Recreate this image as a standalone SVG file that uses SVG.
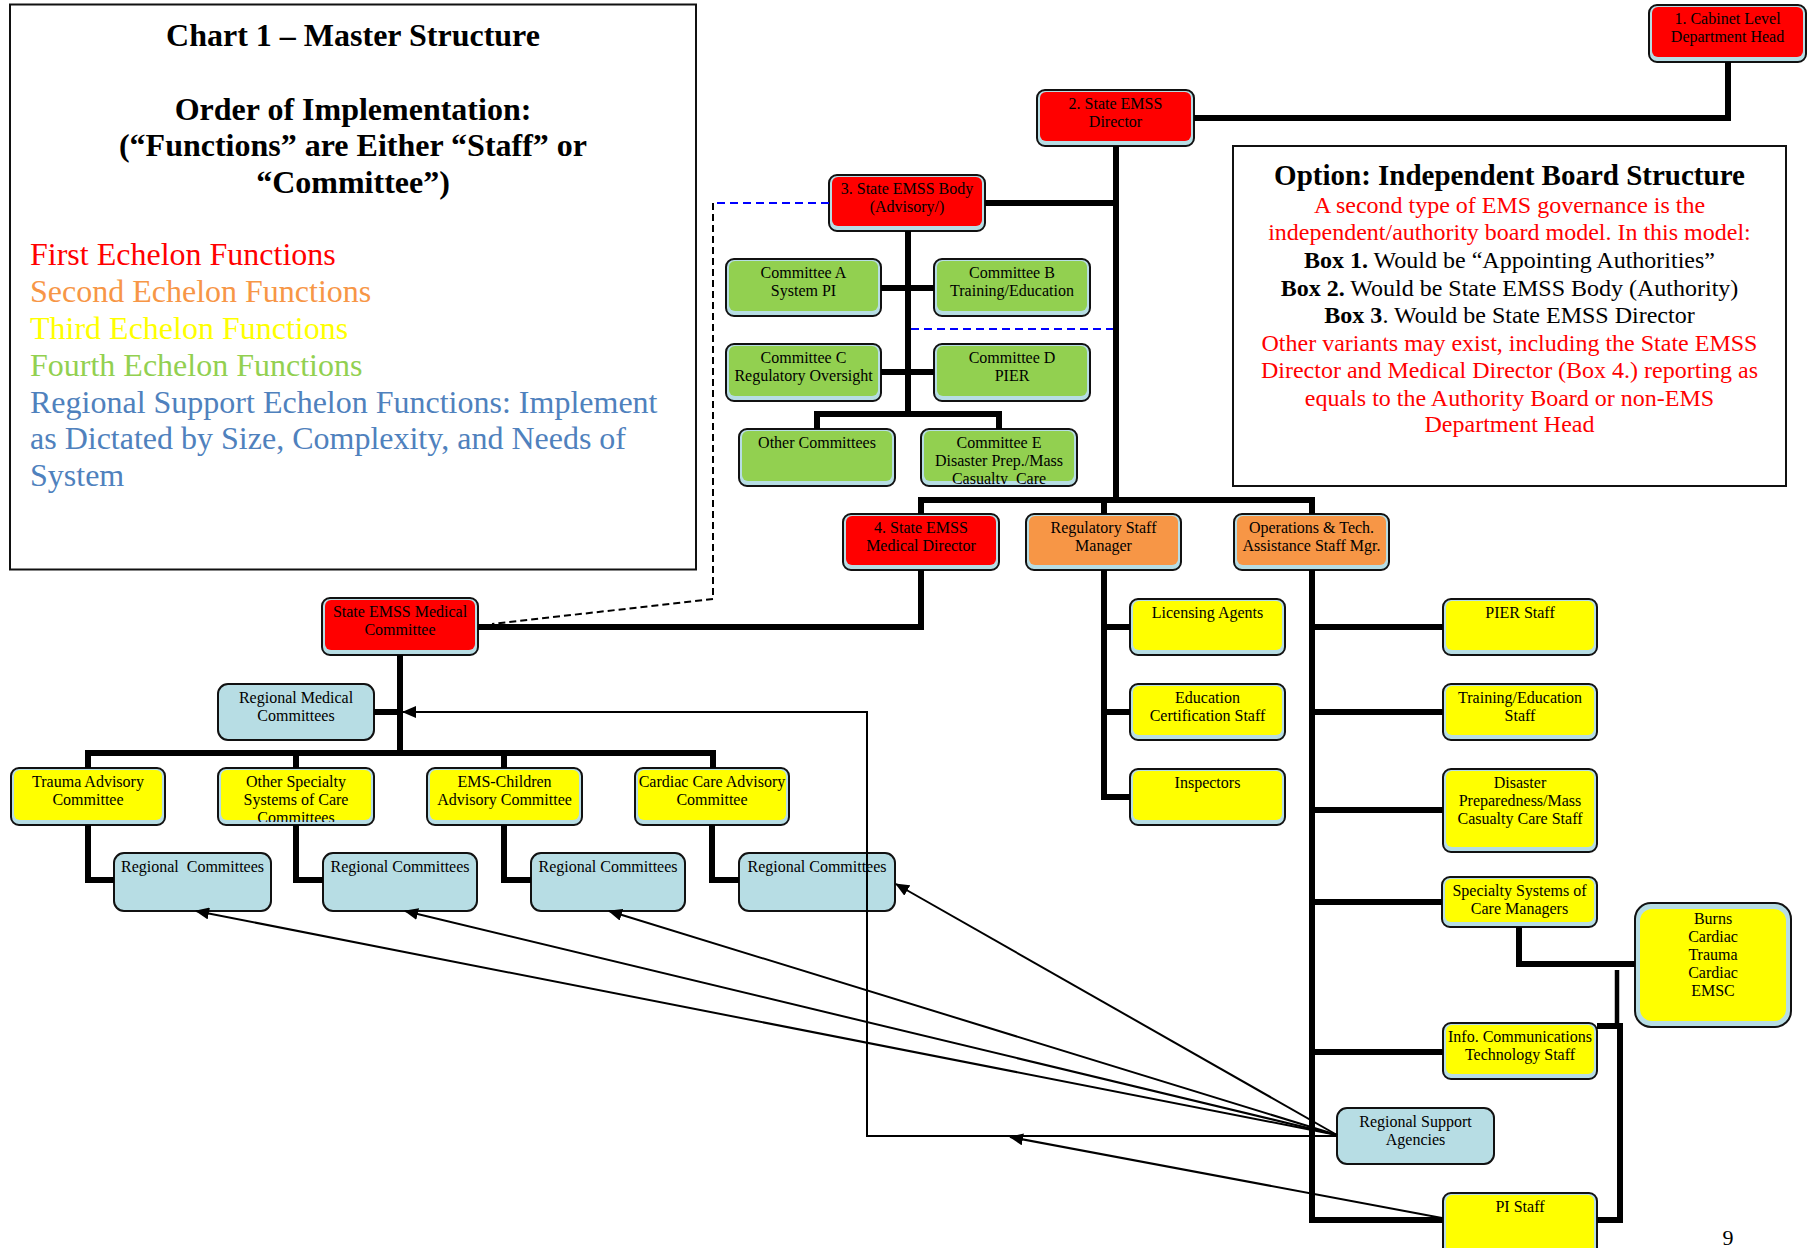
<svg xmlns="http://www.w3.org/2000/svg" width="1809" height="1248" viewBox="0 0 1809 1248">
<style>
.o{stroke:#111;stroke-width:2}
.bl{fill:#B7DDE4}
.red{fill:#FF0000}
.org{fill:#F79646}
.yel{fill:#FFFF00}
.grn{fill:#92D050}
.t{font-family:"Liberation Serif","Times New Roman",serif;font-size:16px;text-anchor:middle;fill:#000}
.pre{white-space:pre}
.c{fill:none;stroke:#000;stroke-width:6;stroke-linejoin:miter}
.a{fill:none;stroke:#000;stroke-width:2;marker-end:url(#ah)}
.L{font-family:"Liberation Serif","Times New Roman",serif;font-size:32px}
.Lb{font-family:"Liberation Serif","Times New Roman",serif;font-size:32px;font-weight:bold;text-anchor:middle;fill:#000}
.O{font-family:"Liberation Serif","Times New Roman",serif;font-size:24px;text-anchor:middle}
.box{fill:#fff;stroke:#111;stroke-width:2}
</style>
<defs>
<marker id="ah" viewBox="0 0 14 12" refX="13" refY="6" markerWidth="14" markerHeight="12" markerUnits="userSpaceOnUse" orient="auto"><path d="M0,0 L14,6 L0,12 z" fill="#000"/></marker>
<clipPath id="clipE"><rect x="921" y="429" width="156" height="55"/></clipPath>
<clipPath id="clipOS"><rect x="218" y="768" width="156" height="54"/></clipPath>
</defs>

<g id="legend">
<rect class="box" x="10" y="4.5" width="686" height="565"/>
<text class="Lb" x="353" y="46">Chart 1 – Master Structure</text>
<text class="Lb" x="353" y="120">Order of Implementation:</text>
<text class="Lb" x="353" y="156">(“Functions” are Either “Staff” or</text>
<text class="Lb" x="353" y="193">“Committee”)</text>
<text class="L" x="30" y="265" fill="#FF0000">First Echelon Functions</text>
<text class="L" x="30" y="302" fill="#F79646">Second Echelon Functions</text>
<text class="L" x="30" y="339" fill="#FFFF00">Third Echelon Functions</text>
<text class="L" x="30" y="376" fill="#92D050">Fourth Echelon Functions</text>
<text class="L" x="30" y="413" fill="#4F81BD">Regional Support Echelon Functions: Implement</text>
<text class="L" x="30" y="449" fill="#4F81BD">as Dictated by Size, Complexity, and Needs of</text>
<text class="L" x="30" y="486" fill="#4F81BD">System</text>
</g>

<g id="option">
<rect class="box" x="1233" y="146" width="553" height="340"/>
<text x="1509.5" y="185" style="font-family:'Liberation Serif','Times New Roman',serif;font-size:29px;font-weight:bold;text-anchor:middle">Option: Independent Board Structure</text>
<text class="O" x="1509.5" y="213" fill="#FF0000">A second type of EMS governance is the</text>
<text class="O" x="1509.5" y="240" fill="#FF0000">independent/authority board model. In this model:</text>
<text class="O" x="1509.5" y="268" fill="#000"><tspan font-weight="bold">Box 1.</tspan> Would be “Appointing Authorities”</text>
<text class="O" x="1509.5" y="296" fill="#000"><tspan font-weight="bold">Box 2.</tspan> Would be State EMSS Body (Authority)</text>
<text class="O" x="1509.5" y="323" fill="#000"><tspan font-weight="bold">Box 3</tspan>. Would be State EMSS Director</text>
<text class="O" x="1509.5" y="351" fill="#FF0000">Other variants may exist, including the State EMSS</text>
<text class="O" x="1509.5" y="378" fill="#FF0000">Director and Medical Director (Box 4.) reporting as</text>
<text class="O" x="1509.5" y="406" fill="#FF0000">equals to the Authority Board or non-EMS</text>
<text class="O" x="1509.5" y="432" fill="#FF0000">Department Head</text>
</g>

<g id="n-cabinet"><rect class="o bl" x="1649" y="5" width="157" height="57" rx="8"/><rect class="red" x="1652" y="7" width="151" height="50" rx="6"/><text class="t" x="1727.5" y="23.5">1. Cabinet Level</text><text class="t" x="1727.5" y="41.5">Department Head</text></g>
<g id="n-director"><rect class="o bl" x="1037" y="90" width="157" height="56" rx="8"/><rect class="red" x="1040" y="92" width="151" height="49" rx="6"/><text class="t" x="1115.5" y="108.5">2. State EMSS</text><text class="t" x="1115.5" y="126.5">Director</text></g>
<g id="n-body"><rect class="o bl" x="829" y="175" width="156" height="56" rx="8"/><rect class="red" x="832" y="177" width="150" height="49" rx="6"/><text class="t" x="907" y="193.5">3. State EMSS Body</text><text class="t" x="907" y="211.5">(Advisory/)</text></g>
<g id="n-comA"><rect class="o bl" x="726" y="259" width="155" height="57" rx="8"/><rect class="grn" x="729" y="261" width="149" height="50" rx="6"/><text class="t" x="803.5" y="278">Committee A</text><text class="t" x="803.5" y="296">System PI</text></g>
<g id="n-comB"><rect class="o bl" x="934" y="259" width="156" height="57" rx="8"/><rect class="grn" x="937" y="261" width="150" height="50" rx="6"/><text class="t" x="1012" y="278">Committee B</text><text class="t" x="1012" y="296">Training/Education</text></g>
<g id="n-comC"><rect class="o bl" x="726" y="344" width="155" height="57" rx="8"/><rect class="grn" x="729" y="346" width="149" height="50" rx="6"/><text class="t" x="803.5" y="363">Committee C</text><text class="t" x="803.5" y="381">Regulatory Oversight</text></g>
<g id="n-comD"><rect class="o bl" x="934" y="344" width="156" height="57" rx="8"/><rect class="grn" x="937" y="346" width="150" height="50" rx="6"/><text class="t" x="1012" y="363">Committee D</text><text class="t" x="1012" y="381">PIER</text></g>
<g id="n-other"><rect class="o bl" x="739" y="429" width="156" height="57" rx="8"/><rect class="grn" x="742" y="431" width="150" height="50" rx="6"/><text class="t" x="817" y="448">Other Committees</text></g>
<g id="n-comE"><rect class="o bl" x="921" y="429" width="156" height="57" rx="8"/><rect class="grn" x="924" y="431" width="150" height="50" rx="6"/><g clip-path="url(#clipE)"><text class="t" x="999" y="448">Committee E</text><text class="t" x="999" y="466">Disaster Prep./Mass</text><text class="t pre" x="999" y="484">Casualty  Care</text></g></g>
<g id="n-meddir"><rect class="o bl" x="843" y="514" width="156" height="56" rx="8"/><rect class="red" x="846" y="516" width="150" height="49" rx="6"/><text class="t" x="921" y="532.5">4. State EMSS</text><text class="t" x="921" y="550.5">Medical Director</text></g>
<g id="n-regmgr"><rect class="o bl" x="1026" y="514" width="155" height="56" rx="8"/><rect class="org" x="1029" y="516" width="149" height="49" rx="6"/><text class="t" x="1103.5" y="532.5">Regulatory Staff</text><text class="t" x="1103.5" y="550.5">Manager</text></g>
<g id="n-opsmgr"><rect class="o bl" x="1234" y="514" width="155" height="56" rx="8"/><rect class="org" x="1237" y="516" width="149" height="49" rx="6"/><text class="t" x="1311.5" y="532.5">Operations &amp; Tech.</text><text class="t" x="1311.5" y="550.5">Assistance Staff Mgr.</text></g>
<g id="n-medcom"><rect class="o bl" x="322" y="598" width="156" height="57" rx="8"/><rect class="red" x="325" y="600" width="150" height="50" rx="6"/><text class="t" x="400" y="616.5">State EMSS Medical</text><text class="t" x="400" y="634.5">Committee</text></g>
<g id="n-rmc"><rect class="o bl" x="218" y="684" width="156" height="56" rx="10"/><text class="t" x="296" y="702.5">Regional Medical</text><text class="t" x="296" y="720.5">Committees</text></g>
<g id="n-trauma"><rect class="o bl" x="11" y="768" width="154" height="57" rx="8"/><rect class="yel" x="14" y="770" width="148" height="50" rx="6"/><text class="t" x="88" y="786.5">Trauma Advisory</text><text class="t" x="88" y="804.5">Committee</text></g>
<g id="n-otherspec"><rect class="o bl" x="218" y="768" width="156" height="57" rx="8"/><rect class="yel" x="221" y="770" width="150" height="50" rx="6"/><g clip-path="url(#clipOS)"><text class="t" x="296" y="786.5">Other Specialty</text><text class="t" x="296" y="804.5">Systems of Care</text><text class="t" x="296" y="822.5">Committees</text></g></g>
<g id="n-emsc"><rect class="o bl" x="427" y="768" width="155" height="57" rx="8"/><rect class="yel" x="430" y="770" width="149" height="50" rx="6"/><text class="t" x="504.5" y="786.5">EMS-Children</text><text class="t" x="504.5" y="804.5">Advisory Committee</text></g>
<g id="n-cardiac"><rect class="o bl" x="635" y="768" width="154" height="57" rx="8"/><rect class="yel" x="638" y="770" width="148" height="50" rx="6"/><text class="t" x="712" y="786.5">Cardiac Care Advisory</text><text class="t" x="712" y="804.5">Committee</text></g>
<g id="n-rc1"><rect class="o bl" x="114" y="853" width="157" height="58" rx="10"/><text class="t pre" x="192.5" y="871.5">Regional  Committees</text></g>
<g id="n-rc2"><rect class="o bl" x="323" y="853" width="154" height="58" rx="10"/><text class="t" x="400" y="871.5">Regional Committees</text></g>
<g id="n-rc3"><rect class="o bl" x="531" y="853" width="154" height="58" rx="10"/><text class="t" x="608" y="871.5">Regional Committees</text></g>
<g id="n-rc4"><rect class="o bl" x="739" y="853" width="156" height="58" rx="10"/><text class="t" x="817" y="871.5">Regional Committees</text></g>
<g id="n-licensing"><rect class="o bl" x="1130" y="599" width="155" height="56" rx="8"/><rect class="yel" x="1133" y="601" width="149" height="49" rx="6"/><text class="t" x="1207.5" y="617.5">Licensing Agents</text></g>
<g id="n-education"><rect class="o bl" x="1130" y="684" width="155" height="56" rx="8"/><rect class="yel" x="1133" y="686" width="149" height="49" rx="6"/><text class="t" x="1207.5" y="702.5">Education</text><text class="t" x="1207.5" y="720.5">Certification Staff</text></g>
<g id="n-inspectors"><rect class="o bl" x="1130" y="769" width="155" height="56" rx="8"/><rect class="yel" x="1133" y="771" width="149" height="49" rx="6"/><text class="t" x="1207.5" y="787.5">Inspectors</text></g>
<g id="n-pier"><rect class="o bl" x="1443" y="599" width="154" height="56" rx="8"/><rect class="yel" x="1446" y="601" width="148" height="49" rx="6"/><text class="t" x="1520" y="617.5">PIER Staff</text></g>
<g id="n-training"><rect class="o bl" x="1443" y="684" width="154" height="56" rx="8"/><rect class="yel" x="1446" y="686" width="148" height="49" rx="6"/><text class="t" x="1520" y="702.5">Training/Education</text><text class="t" x="1520" y="720.5">Staff</text></g>
<g id="n-disaster"><rect class="o bl" x="1443" y="769" width="154" height="83" rx="8"/><rect class="yel" x="1446" y="771" width="148" height="76" rx="6"/><text class="t" x="1520" y="787.5">Disaster</text><text class="t" x="1520" y="805.5">Preparedness/Mass</text><text class="t" x="1520" y="823.5">Casualty Care Staff</text></g>
<g id="n-specialty"><rect class="o bl" x="1442" y="877" width="155" height="50" rx="8"/><rect class="yel" x="1445" y="879" width="149" height="43" rx="6"/><text class="t" x="1519.5" y="895.5">Specialty Systems of</text><text class="t" x="1519.5" y="913.5">Care Managers</text></g>
<g id="n-burns"><rect class="o bl" x="1635" y="903" width="156" height="124" rx="16"/><rect class="yel" x="1640" y="909" width="146" height="112" rx="12"/><text class="t" x="1713" y="923.5">Burns</text><text class="t" x="1713" y="941.5">Cardiac</text><text class="t" x="1713" y="959.5">Trauma</text><text class="t" x="1713" y="977.5">Cardiac</text><text class="t" x="1713" y="995.5">EMSC</text></g>
<g id="n-ict"><rect class="o bl" x="1443" y="1023" width="154" height="56" rx="8"/><rect class="yel" x="1446" y="1025" width="148" height="49" rx="6"/><text class="t" x="1520" y="1041.5">Info. Communications</text><text class="t" x="1520" y="1059.5">Technology Staff</text></g>
<g id="n-rsa"><rect class="o bl" x="1337" y="1108" width="157" height="56" rx="10"/><text class="t" x="1415.5" y="1126.5">Regional Support</text><text class="t" x="1415.5" y="1144.5">Agencies</text></g>
<g id="n-pistaff"><rect class="o bl" x="1443" y="1193" width="154" height="64" rx="8"/><rect class="yel" x="1446" y="1195" width="148" height="57" rx="6"/><text class="t" x="1520" y="1211.5">PI Staff</text></g>

<g id="connectors">
<path class="c" d="M1728,62 V118 H1194"/>
<path class="c" d="M1116,146 V500"/>
<path class="c" d="M985,203 H1116"/>
<path class="c" d="M908,231 V414"/>
<path class="c" d="M881,288 H934"/>
<path class="c" d="M881,372 H934"/>
<path class="c" d="M817,429 V414 H999 V429"/>
<path class="c" d="M921,514 V500 H1312 V514"/>
<path class="c" d="M1104,500 V514"/>
<path class="c" d="M921,570 V627 H478"/>
<path class="c" d="M1104,570 V797 H1130"/>
<path class="c" d="M1104,627 H1130 M1104,712 H1130"/>
<path class="c" d="M1312,570 V1220 H1443"/>
<path class="c" d="M1312,627 H1443 M1312,712 H1443 M1312,810 H1443 M1312,902 H1442 M1312,1052 H1443"/>
<path class="c" d="M1519,927 V964 H1635"/>
<path class="c" style="stroke-width:4.5" d="M1617,970 V1024"/>
<path class="c" d="M1597,1026 H1620 V1220 H1597"/>
<path class="c" d="M400,655 V753"/>
<path class="c" d="M374,712 H400"/>
<path class="c" d="M88,768 V753 H713 V768"/>
<path class="c" d="M296,753 V768 M504,753 V768"/>
<path class="c" d="M88,825 V880 H114"/>
<path class="c" d="M296,825 V880 H323"/>
<path class="c" d="M504,825 V880 H531"/>
<path class="c" d="M712,825 V880 H739"/>
<path d="M829,203 H713" fill="none" stroke="#0000FF" stroke-width="2" stroke-dasharray="8 5"/>
<path d="M911,329 H1113" fill="none" stroke="#0000FF" stroke-width="2" stroke-dasharray="8 5"/>
<path d="M713,203 V599 L492,624" fill="none" stroke="#000" stroke-width="2" stroke-dasharray="7 4"/>
<path class="a" d="M1337,1136 H867 V712 H403"/>
<path class="a" d="M1337,1135 L896,884"/>
<path class="a" d="M1337,1135 L609,911"/>
<path class="a" d="M1337,1135 L405,911"/>
<path class="a" d="M1337,1135 L196,911"/>
<path class="a" d="M1442,1218 L1010,1137"/>
</g>

<text x="1728" y="1245" style="font-family:'Liberation Serif','Times New Roman',serif;font-size:22px;text-anchor:middle">9</text>
</svg>
